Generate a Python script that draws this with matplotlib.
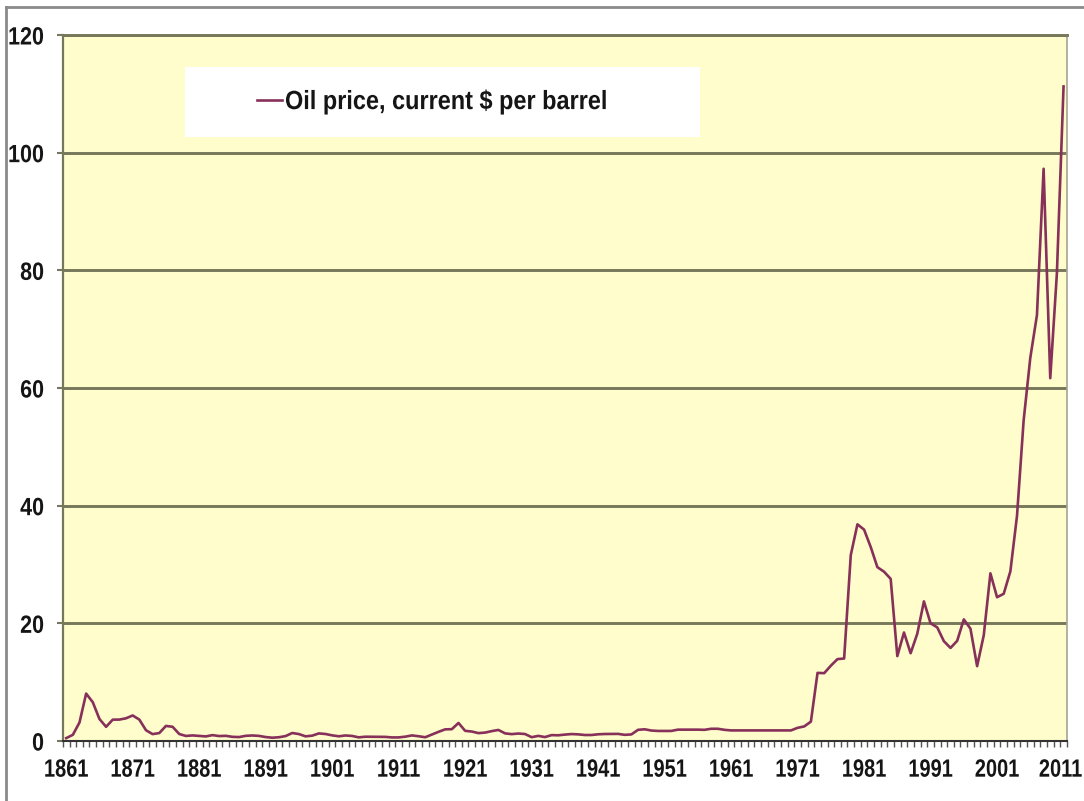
import numpy as np
import matplotlib
matplotlib.use('Agg')
import matplotlib.pyplot as plt
from matplotlib.patches import Rectangle
from matplotlib.lines import Line2D
from matplotlib.patheffects import AbstractPathEffect
from matplotlib.transforms import Affine2D, ScaledTranslation

plt.rcParams['font.family'] = ['Liberation Sans', 'DejaVu Sans']

years = list(range(1861, 2012))
price = [0.49, 1.05, 3.15, 8.06, 6.59, 3.74, 2.41, 3.63, 3.64, 3.86,
         4.34, 3.64, 1.83, 1.17, 1.35, 2.56, 2.42, 1.19, 0.86, 0.95,
         0.86, 0.78, 1.00, 0.84, 0.88, 0.71, 0.67, 0.88, 0.94, 0.87,
         0.67, 0.56, 0.64, 0.84, 1.36, 1.18, 0.79, 0.91, 1.29, 1.19,
         0.96, 0.80, 0.94, 0.86, 0.62, 0.73, 0.72, 0.72, 0.70, 0.61,
         0.61, 0.74, 0.95, 0.81, 0.64, 1.10, 1.56, 1.98, 2.01, 3.07,
         1.73, 1.61, 1.34, 1.43, 1.68, 1.88, 1.30, 1.17, 1.27, 1.19,
         0.65, 0.87, 0.67, 1.00, 0.97, 1.09, 1.18, 1.13, 1.02, 1.02,
         1.14, 1.19, 1.20, 1.21, 1.05, 1.12, 1.90, 1.99, 1.78, 1.71,
         1.71, 1.71, 1.93, 1.93, 1.93, 1.93, 1.90, 2.08, 2.08, 1.90,
         1.80, 1.80, 1.80, 1.80, 1.80, 1.80, 1.80, 1.80, 1.80, 1.80,
         2.24, 2.48, 3.29, 11.58, 11.53, 12.80, 13.92, 14.02, 31.61, 36.83,
         35.93, 32.97, 29.55, 28.78, 27.56, 14.43, 18.44, 14.92, 18.23, 23.73,
         20.00, 19.32, 16.97, 15.82, 17.02, 20.67, 19.09, 12.72, 17.97, 28.50,
         24.44, 25.02, 28.83, 38.27, 54.52, 65.14, 72.39, 97.26, 61.67, 79.50,
         111.26]
label_years = list(range(1861, 2012, 10))
y_ticks = [0, 20, 40, 60, 80, 100, 120]
series_name = 'Oil price, current $ per barrel'


class Narrow(AbstractPathEffect):
    # squeeze glyphs horizontally to mimic a narrow typeface
    def __init__(self, sx=0.82, anchor='center'):
        super().__init__()
        self.sx = sx
        self.anchor = anchor

    def draw_path(self, renderer, gc, tpath, affine, rgbFace=None):
        ext = tpath.get_extents()
        cx = {'left': ext.x0, 'center': 0.5 * (ext.x0 + ext.x1), 'right': ext.x1}[self.anchor]
        t = Affine2D().translate(-cx, 0).scale(self.sx, 1).translate(cx, 0) + affine
        renderer.draw_path(gc, tpath, t, rgbFace)


fig = plt.figure(figsize=(10.84, 8.01), dpi=100)
ax = fig.add_axes([0.058, 0.0749, 0.9262, 0.8814])
ax.set_facecolor('#fffdcc')

x = np.arange(len(years))
ax.plot(x, price, color='#86305a', lw=1.9, zorder=3, label=series_name)

ax.set_xlim(-0.5, len(years) - 0.5)
ax.set_ylim(0, 120)
ax.set_yticks(y_ticks)
ax.set_yticklabels([str(v) for v in y_ticks])
ax.set_xticks([years.index(y) for y in label_years])
ax.set_xticklabels([str(y) for y in label_years])
ax.set_xticks(np.arange(-0.5, len(years), 1), minor=True)
ax.tick_params(axis='x', which='major', length=0, pad=12)
ax.tick_params(axis='x', which='minor', length=4, width=1, color='#555555', direction='out')
ax.tick_params(axis='y', length=4.5, width=1.5, color='#777760', pad=9)

xlabs = ax.get_xticklabels()
for lab in xlabs:
    lab.set_fontsize(18)
    lab.set_fontweight('bold')
    lab.set_color('#151515')
    lab.set_path_effects([Narrow(0.8, 'center')])
# keep the last year label inside the figure
xlabs[-1].set_horizontalalignment('right')
xlabs[-1].set_transform(xlabs[-1].get_transform() + ScaledTranslation(0.19, 0, fig.dpi_scale_trans))
xlabs[-1].set_path_effects([Narrow(0.8, 'right')])
for lab in ax.get_yticklabels():
    lab.set_fontsize(18)
    lab.set_fontweight('bold')
    lab.set_color('#151515')
    lab.set_path_effects([Narrow(0.86, 'right')])

ax.grid(axis='y', color='#77775a', lw=2.1, zorder=1)
ax.set_axisbelow(True)
ax.spines['left'].set_color('#77775a')
ax.spines['left'].set_linewidth(1.6)
ax.spines['bottom'].set_color('#333333')
ax.spines['bottom'].set_linewidth(1.5)
ax.spines['right'].set_color('#a5a595')
ax.spines['right'].set_linewidth(1.2)
ax.spines['top'].set_color('#77775a')
ax.spines['top'].set_linewidth(2.1)

# legend box
ax.add_patch(Rectangle((0.122, 0.855), 0.513, 0.100, transform=ax.transAxes,
                       facecolor='white', edgecolor='none', zorder=4))
leg = ax.legend(loc='center left', bbox_to_anchor=(0.193, 0.905), frameon=False,
                handlelength=0.95, handletextpad=0.12, borderpad=0, borderaxespad=0,
                prop={'size': 19, 'weight': 'bold'})
leg.set_zorder(5)
for t in leg.get_texts():
    t.set_color('#151515')
    t.set_path_effects([Narrow(0.89, 'left')])

# outer frame (left and top)
fig.add_artist(Line2D([0.0055, 0.0055], [0.0, 0.991], transform=fig.transFigure,
                      color='#8a8a8a', lw=2))
fig.add_artist(Line2D([0.0055, 1.0], [0.991, 0.991], transform=fig.transFigure,
                      color='#8a8a8a', lw=2))

fig.savefig('out.png', dpi=100)
